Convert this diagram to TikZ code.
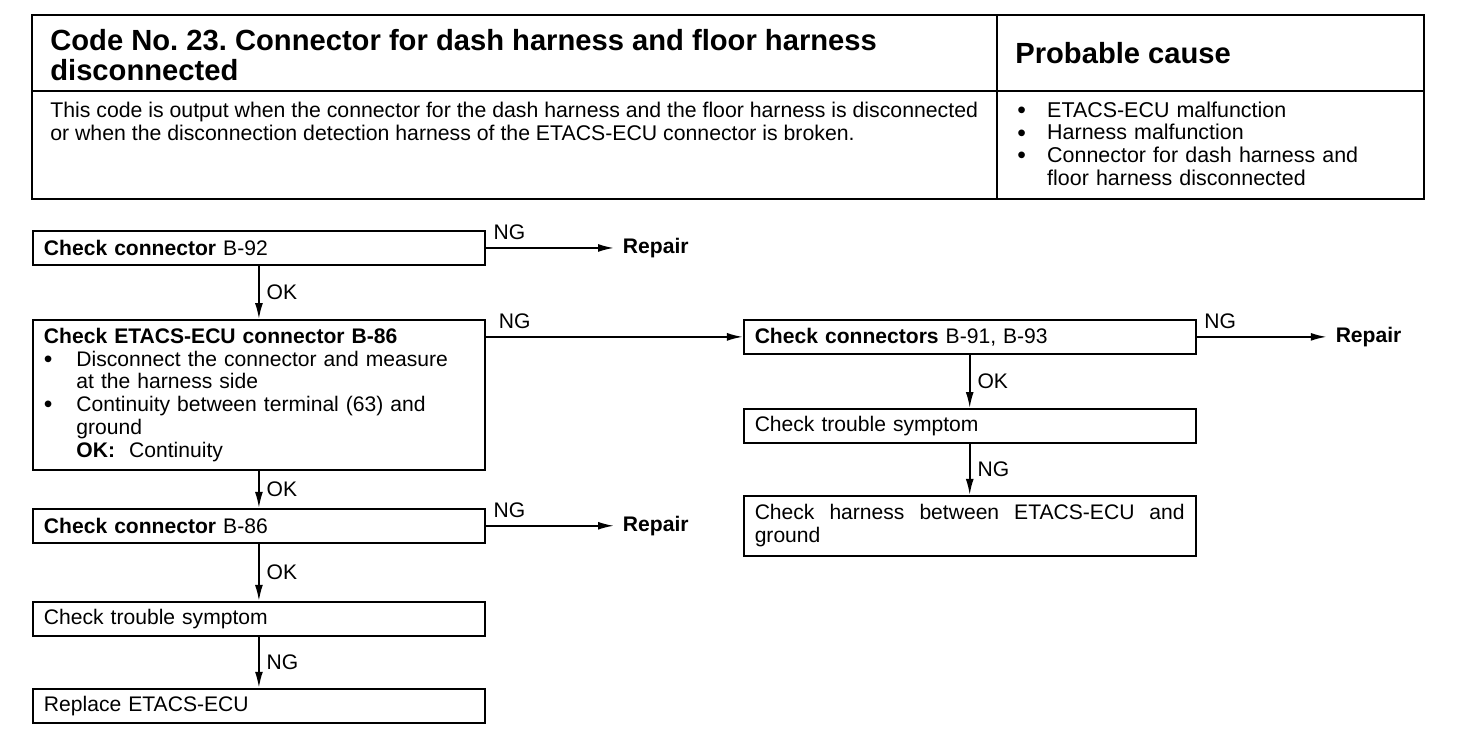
\documentclass[tikz,border=0pt]{standalone}
\usepackage{fontspec}
\setmainfont{Liberation Sans}
\usetikzlibrary{arrows.meta, positioning}
\frenchspacing

% bullet line with hanging indent (break lines with \newline)
\newcommand{\itm}[2]{\par\noindent\hangindent=#1\hangafter=1\makebox[#1][l]{\smash{\raisebox{-0.1ex}{\fontsize{14}{13}\selectfont\textbullet}}}#2}

\begin{document}
\begin{tikzpicture}[
  x=0.02cm, y=-0.02cm,
  node distance=1.06cm,
  every node/.style={font=\fontsize{12}{13}\selectfont},
  box/.style={rectangle, draw, line width=1.1pt, text width=8.6cm, inner xsep=0.22cm, minimum height=0.68cm, align=left},
  txt/.style={inner sep=0, anchor=west, align=left},
  arrow/.style={-{Latex[length=9pt,width=4.5pt]}, line width=0.9pt},
  repair/.style={font=\fontsize{12}{13}\selectfont\bfseries, inner xsep=5pt},
  lbl/.style={inner sep=4pt}
]
\useasboundingbox (0,0) rectangle (1472,746);

% header table
\draw[line width=1.5pt] (32,15) rectangle (1424,199);
\draw[line width=0.9pt] (32,91) -- (1424,91);
\draw[line width=0.9pt] (997,15) -- (997,199);

\node (title) [txt, font=\fontsize{16.6}{17}\selectfont\bfseries] at (50,55) {Code No. 23. Connector for dash harness and floor harness\\disconnected};
\node (cause) [txt, font=\fontsize{16.6}{17}\selectfont\bfseries] at (1015,53) {Probable cause};
\node (desc) [txt, font=\fontsize{12.1}{13}\selectfont] at (50,121.5) {This code is output when the connector for the dash harness and the floor harness is disconnected\\or when the disconnection detection harness of the ETACS-ECU connector is broken.};
\node (causes) [txt, text width=8cm, font=\fontsize{12.2}{13}\selectfont] at (1017,140) {%
  \itm{17pt}{ETACS-ECU malfunction}
  \itm{17pt}{Harness malfunction}
  \itm{17pt}{Connector for dash harness and\newline floor harness disconnected}\par};

% left column
\node (chk92) [box, anchor=north west] at (32,230) {\textbf{Check connector} B-92};
\node (ecu86) [box, below=of chk92, minimum height=3cm] {%
  \textbf{Check ETACS-ECU connector B-86}
  \itm{18.5pt}{Disconnect the connector and measure\newline at the harness side}
  \itm{18.5pt}{Continuity between terminal (63) and\newline ground\newline \textbf{OK:}\ \ Continuity}\par};
\node (chk86) [box, below=0.74cm of ecu86] {\textbf{Check connector} B-86};
\node (sym1) [box, below=1.14cm of chk86] {Check trouble symptom};
\node (repl) [box, below=1.02cm of sym1] {Replace ETACS-ECU};

% right column
\node (chk9193) [box, right=5.14cm of ecu86.north east, anchor=north west] {\textbf{Check connectors} B-91, B-93};
\node (sym2) [box, below=1.06cm of chk9193] {Check trouble symptom};
\node (harn) [box, below=1.02cm of sym2, minimum height=1.2cm] {\makebox[8.6cm][s]{\spaceskip=0pt\xspaceskip=0pt Check harness between ETACS-ECU and}\\ground};

% repair ends
\node (rep1) [repair, right=2.56cm of chk92] {Repair};
\node (rep2) [repair, right=2.56cm of chk86] {Repair};
\node (rep3) [repair, right=2.6cm of chk9193] {Repair};

\draw [arrow] (chk92) -- node[lbl, right] {OK} (ecu86);
\draw [arrow] (ecu86) -- node[lbl, right] {OK} (chk86);
\draw [arrow] (chk86) -- node[lbl, right] {OK} (sym1);
\draw [arrow] (sym1) -- node[lbl, right] {NG} (repl);
\draw [arrow] (chk9193) -- node[lbl, right] {OK} (sym2);
\draw [arrow] (sym2) -- node[lbl, right] {NG} (harn);

\draw [arrow] (chk92) -- node[lbl, pos=0, anchor=south west] {NG} (rep1);
\draw [arrow] (chk86) -- node[lbl, pos=0, anchor=south west] {NG} (rep2);
\draw [arrow] (chk9193) -- node[lbl, pos=0, anchor=south west] {NG} (rep3);
\draw [arrow] (ecu86.east |- chk9193.west) -- node[lbl, pos=0.02, anchor=south west] {NG} (chk9193);

\end{tikzpicture}
\end{document}
